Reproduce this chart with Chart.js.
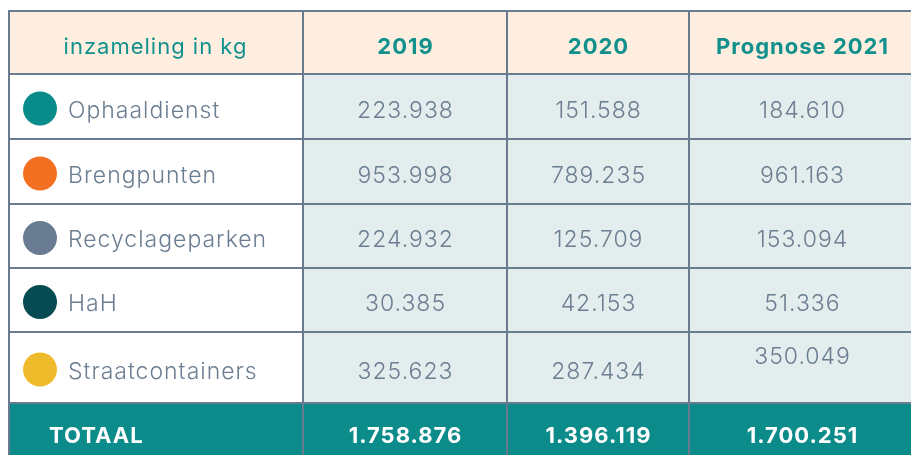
<!DOCTYPE html>
<html>
<head>
<meta charset="utf-8">
<script src="https://cdn.jsdelivr.net/npm/chart.js@4.4.1/dist/chart.umd.min.js"></script>
<style>
  html, body { margin: 0; padding: 0; background: #ffffff; }
  #wrap { width: 911px; height: 455px; position: relative; }
</style>
</head>
<body>
<div id="wrap"><canvas id="tableChart"></canvas></div>
<script>
// table data
const headerLabels = ['inzameling in kg', '2019', '2020', 'Prognose 2021'];
const categories = ['Ophaaldienst', 'Brengpunten', 'Recyclageparken', 'HaH', 'Straatcontainers'];
const values2019 = [223938, 953998, 224932, 30385, 325623];
const values2020 = [151588, 789235, 125709, 42153, 287434];
const values2021 = [184610, 961163, 153094, 51336, 350049];
const totalLabel = 'TOTAAL';
const totals = [1758876, 1396119, 1700251];

const dotColors = ['#0a8b8b', '#f37022', '#687b91', '#064b52', '#efbb2b'];

// layout (in scale units = px of the 911x455 frame)
const colEdges = [9, 303, 507, 689, 940];
const rowEdges = [11, 74, 139, 204, 268, 332, 403, 480];
const textY = [47, 111, 176, 240, 304, 372, 436];

const BORDER = '#687b8f';
const HEAD_BG = '#fdeee0';
const CELL_BG = '#e4eded';
const TEAL = '#0b8b89';
const TEXT_GRAY = '#6b7e92';

function fmt(n) {
  return String(n).replace(/\B(?=(\d{3})+(?!\d))/g, '.');
}

// centred text with letter spacing (trailing space compensated)
function centerText(ctx, str, cx, cy, spacing) {
  ctx.letterSpacing = spacing + 'px';
  ctx.textAlign = 'center';
  ctx.fillText(str, cx + spacing / 2, cy);
}

const tablePlugin = {
  id: 'tablePlugin',
  afterDraw(chart) {
    const { ctx, scales: { x, y } } = chart;
    const px = v => x.getPixelForValue(v);
    const py = v => y.getPixelForValue(v);
    const series = [values2019, values2020, values2021];
    const nRows = rowEdges.length - 1;
    const nCols = colEdges.length - 1;

    ctx.save();
    // fills
    for (let r = 0; r < nRows; r++) {
      for (let c = 0; c < nCols; c++) {
        let fill;
        if (r === 0) fill = HEAD_BG;
        else if (r === nRows - 1) fill = TEAL;
        else fill = c === 0 ? '#ffffff' : CELL_BG;
        ctx.fillStyle = fill;
        ctx.fillRect(px(colEdges[c]), py(rowEdges[r]),
          px(colEdges[c + 1]) - px(colEdges[c]), py(rowEdges[r + 1]) - py(rowEdges[r]));
      }
    }

    // grid lines
    ctx.strokeStyle = BORDER;
    ctx.lineWidth = 2;
    ctx.beginPath();
    rowEdges.forEach(v => {
      ctx.moveTo(px(colEdges[0]) - 1, py(v));
      ctx.lineTo(px(colEdges[nCols]), py(v));
    });
    colEdges.forEach(v => {
      ctx.moveTo(px(v), py(rowEdges[0]));
      ctx.lineTo(px(v), py(rowEdges[nRows]));
    });
    ctx.stroke();

    // the last column is cut off by the frame, its text sits at 802
    const colMid = c => c === 3 ? px(802) : (px(colEdges[c]) + px(colEdges[c + 1])) / 2;

    ctx.textBaseline = 'middle';

    // header
    ctx.fillStyle = '#12908c';
    ctx.font = '400 22px Inter';
    centerText(ctx, headerLabels[0], colMid(0) - 1, py(textY[0]), 1);
    ctx.font = '700 22px Inter';
    for (let c = 1; c < headerLabels.length; c++) {
      centerText(ctx, headerLabels[c], colMid(c), py(textY[0]), 1);
    }

    // body rows
    categories.forEach((name, i) => {
      const ty = py(textY[i + 1]);
      const cy = (py(rowEdges[i + 1]) + py(rowEdges[i + 2])) / 2 + 2;
      ctx.fillStyle = dotColors[i];
      ctx.beginPath();
      ctx.arc(px(40), cy, 17, 0, Math.PI * 2);
      ctx.fill();

      ctx.fillStyle = TEXT_GRAY;
      ctx.font = '300 23px Inter';
      ctx.letterSpacing = '1px';
      ctx.textAlign = 'left';
      ctx.fillText(name, px(68), ty);

      series.forEach((vals, c) => {
        let yy = ty;
        if (i === categories.length - 1 && c === 2) yy = py(357);
        centerText(ctx, fmt(vals[i]), colMid(c + 1), yy, 1);
      });
    });

    // totals
    ctx.fillStyle = '#ffffff';
    ctx.font = '700 22px Inter';
    ctx.letterSpacing = '1px';
    ctx.textAlign = 'left';
    ctx.fillText(totalLabel, px(49), py(textY[6]));
    totals.forEach((t, c) => {
      centerText(ctx, fmt(t), colMid(c + 1), py(textY[6]), 1);
    });
    ctx.restore();
  }
};

new Chart(document.getElementById('tableChart'), {
  type: 'scatter',
  data: { datasets: [] },
  options: {
    responsive: true,
    maintainAspectRatio: false,
    animation: false,
    layout: { padding: 0 },
    plugins: { legend: { display: false }, tooltip: { enabled: false } },
    scales: {
      x: { type: 'linear', min: 0, max: 911, display: false },
      y: { type: 'linear', min: 0, max: 455, reverse: true, display: false }
    }
  },
  plugins: [tablePlugin]
});
</script>
</body>
</html>
